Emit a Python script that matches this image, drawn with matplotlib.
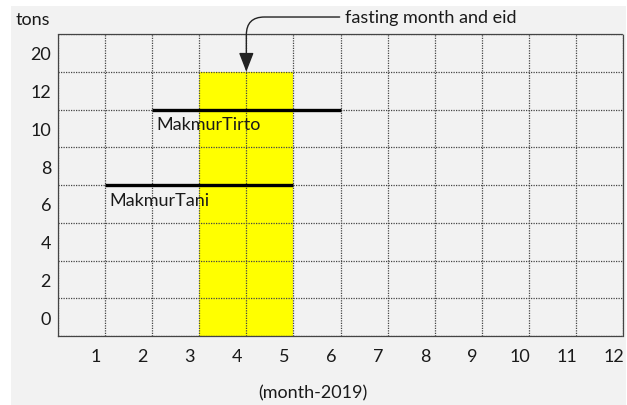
import matplotlib

matplotlib.use("Agg")

import matplotlib.pyplot as plt
from matplotlib.patches import Rectangle

plt.rcParams["font.family"] = ["Lato", "DejaVu Sans"]

# months on the x axis, tonnage rows on the y axis (labels as shown, not linear)
MONTHS = list(range(1, 13))
TON_LABELS = ["0", "2", "4", "6", "8", "10", "12", "20"]

# traders: active period (month edges) and level in tons
TRADERS = ["MakmurTani", "MakmurTirto"]
TRADER_START = [1, 2]
TRADER_END = [5, 6]
TRADER_TONS = [7, 11]

# fasting month and eid highlight (month edges) and its height in tons
FASTING_START = 3
FASTING_END = 5
FASTING_TOP_TONS = 13

FONT_SIZE = 13


def ton_to_row(tons: float) -> float:
    return tons / 2 + 0.5


fig = plt.figure(figsize=(6.27, 4.06), dpi=100)
fig.patches.append(
    Rectangle((11 / 627, 0), 615 / 627, 399 / 406, transform=fig.transFigure,
              facecolor="#f2f2f2", edgecolor="none", zorder=-10)
)
ax = fig.add_axes([58 / 627, 1 - 337 / 406, 565 / 627, 302 / 406])
ax.set_facecolor("#f2f2f2")
ax.set_xlim(0, 12)
ax.set_ylim(0, len(TON_LABELS))

ax.bar((FASTING_START + FASTING_END) / 2, ton_to_row(FASTING_TOP_TONS),
       width=FASTING_END - FASTING_START, color="#ffff00", zorder=1)

for name, start, end, tons in zip(TRADERS, TRADER_START, TRADER_END, TRADER_TONS):
    y = ton_to_row(tons)
    ax.plot([start, end], [y, y], color="black", linewidth=2.4, solid_capstyle="butt", zorder=3)
    ax.annotate(name, (start, y), xytext=(3, -5), textcoords="offset points",
                ha="left", va="top", fontsize=FONT_SIZE, color="#1a1a1a", zorder=4)

ax.annotate(
    "fasting month and eid",
    xy=((FASTING_START + FASTING_END) / 2, ton_to_row(FASTING_TOP_TONS)),
    xytext=(6.1, 8.45), textcoords="data",
    ha="left", va="center", fontsize=FONT_SIZE, color="#1a1a1a", annotation_clip=False,
    arrowprops=dict(arrowstyle="-|>,head_length=0.9,head_width=0.35", color="#222222",
                    linewidth=1.0, shrinkA=2, shrinkB=0,
                    connectionstyle="angle,angleA=0,angleB=90,rad=18"),
)

ax.set_xticks(range(0, 13), minor=True)
ax.set_yticks(range(0, len(TON_LABELS) + 1), minor=True)
ax.grid(which="minor", color="#444444", linestyle=(0, (1, 1)), linewidth=0.9, zorder=2)
ax.set_axisbelow(False)
for spine in ax.spines.values():
    spine.set_linestyle((0, (1, 1)))
    spine.set_linewidth(0.9)
    spine.set_color("#444444")

ax.set_xticks([m - 0.2 for m in MONTHS])
ax.set_xticklabels([str(m) for m in MONTHS], fontsize=FONT_SIZE, color="#1a1a1a")
ax.set_yticks([i + 0.5 for i in range(len(TON_LABELS))])
ax.set_yticklabels(TON_LABELS, fontsize=FONT_SIZE, color="#1a1a1a")
ax.tick_params(which="both", length=0)
ax.tick_params(axis="x", pad=9)
ax.tick_params(axis="y", pad=5)

fig.text(16 / 627, 1 - 20 / 406, "tons", ha="left", va="center", fontsize=FONT_SIZE, color="#1a1a1a")
fig.text(313 / 627, 1 - 393 / 406, "(month-2019)", ha="center", va="center", fontsize=FONT_SIZE, color="#1a1a1a")

fig.savefig("out.png", dpi=100, facecolor="white")
